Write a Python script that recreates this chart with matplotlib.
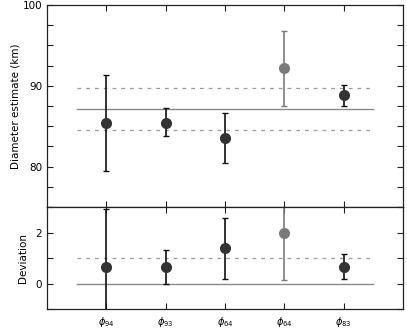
import matplotlib.pyplot as plt
from matplotlib.ticker import MultipleLocator

# data
labels = [r'$\phi_{94}$', r'$\phi_{93}$', r'$\phi_{64}$', r'$\phi_{64}$', r'$\phi_{83}$']
xpos = [1, 2, 3, 4, 5]
diam = [85.4, 85.4, 83.6, 92.2, 88.8]
diam_lo = [79.5, 83.8, 80.5, 87.5, 87.5]
diam_hi = [91.3, 87.2, 86.6, 96.8, 90.1]
diam_mean = 87.1
diam_band = [84.5, 89.7]
dev = [0.64, 0.64, 1.38, 1.97, 0.64]
dev_lo = [-1.8, -0.01, 0.2, 0.15, 0.17]
dev_hi = [2.92, 1.30, 2.56, 3.2, 1.17]
dev_mean = 0.0
dev_band = [1.0]
point_colors = ['#333333', '#333333', '#333333', '#7a7a7a', '#333333']
bar_colors = ['#111111', '#111111', '#111111', '#7a7a7a', '#111111']

plt.rcParams['font.family'] = 'DejaVu Sans'
plt.rcParams['font.size'] = 7.5

fig = plt.figure(figsize=(4.07, 3.30), dpi=100)
ax1 = fig.add_axes([0.1155, 0.3727, 0.8745, 0.6123])
ax2 = fig.add_axes([0.1155, 0.0627, 0.8745, 0.3100])

spine_col = '#222222'


def style_axis(ax):
    for s in ax.spines.values():
        s.set_color(spine_col)
        s.set_linewidth(0.9)
    ax.tick_params(which='both', direction='in', top=True, right=True,
                   length=4, width=0.8, color=spine_col, labelsize=7.5)
    ax.set_xlim(0, 6)
    ax.set_xticks(xpos)


def draw_panel(ax, vals, lo, hi, mean, band):
    ax.plot([0.5, 5.5], [mean, mean], color='#8a8a8a', lw=1.0, zorder=1)
    for b in band:
        ax.plot([0.5, 5.5], [b, b], color='#9a9a9a', lw=0.9,
                linestyle=(0, (3, 4)), zorder=1)
    for i in range(len(xpos)):
        ax.errorbar(xpos[i], vals[i],
                    yerr=[[vals[i] - lo[i]], [hi[i] - vals[i]]],
                    fmt='none', ecolor=bar_colors[i], elinewidth=1.2,
                    capsize=2.2, capthick=1.0, zorder=2)
        ax.plot(xpos[i], vals[i], 'o', color=point_colors[i],
                markersize=8, markeredgewidth=0, zorder=3)


# upper panel: diameter estimates
style_axis(ax1)
draw_panel(ax1, diam, diam_lo, diam_hi, diam_mean, diam_band)
ax1.set_ylim(75, 100)
ax1.yaxis.set_major_locator(MultipleLocator(10))
ax1.yaxis.set_minor_locator(MultipleLocator(2.5))
ax1.set_xticklabels([])
ax1.set_ylabel('Diameter estimate (km)')
ax1.yaxis.set_label_coords(-0.075, 0.5)

# lower panel: deviation
style_axis(ax2)
draw_panel(ax2, dev, dev_lo, dev_hi, dev_mean, dev_band)
ax2.set_ylim(-1, 3)
ax2.yaxis.set_major_locator(MultipleLocator(2))
ax2.yaxis.set_minor_locator(MultipleLocator(1))
ax2.set_xticks(xpos)
ax2.set_xticklabels(labels, fontsize=7)
ax2.tick_params(axis='x', pad=4)
ax2.set_ylabel('Deviation')
ax2.yaxis.set_label_coords(-0.053, 0.5)

fig.savefig('out.png', dpi=100)
